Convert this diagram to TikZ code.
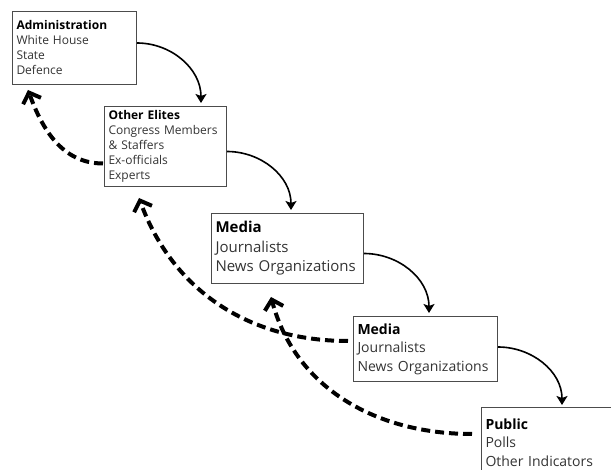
\documentclass[tikz,border=0pt]{standalone}
\usepackage{fontspec}
\setmainfont{Open Sans}
\usetikzlibrary{arrows.meta}

\begin{document}
\begin{tikzpicture}[x=1pt,y=-1pt]
	\tikzstyle{rect} = [rectangle, anchor=north west, align=left, draw=black!70, line width=1pt, inner sep=4pt, text=black!80]
	\tikzstyle{arrow} = [line width=1.6pt, -{Stealth[length=9pt,width=11pt,inset=2pt]}]
	\tikzstyle{back} = [line width=4pt, dash pattern=on 9pt off 5pt, -{Straight Barb[length=9pt,width=19pt]}]

	\clip (0,0) rectangle (611,470);

	\node (admin) at (12,11) [rect, text width=116pt, minimum height=73pt, font=\fontsize{12}{15}\selectfont] {\textcolor{black}{\textbf{Administration}}\\White House\\State\\Defence};
	\node (elites) at (104,106) [rect, text width=114pt, minimum height=80pt, font=\fontsize{12}{15}\selectfont] {\textcolor{black}{\textbf{Other Elites}}\\Congress Members\\\& Staffers\\Ex-officials\\Experts};
	\node (media1) at (211,213) [rect, text width=144pt, minimum height=70pt, font=\fontsize{15}{19.5}\selectfont] {\textcolor{black}{\textbf{Media}}\\Journalists\\News Organizations};
	\node (media2) at (353,316) [rect, text width=136pt, minimum height=65pt, font=\fontsize{14}{18.5}\selectfont] {\textcolor{black}{\textbf{Media}}\\Journalists\\News Organizations};
	\node (public) at (481,407) [rect, text width=142pt, minimum height=70pt, font=\fontsize{14}{18.5}\selectfont] {\textcolor{black}{\textbf{Public}}\\Polls\\Other Indicators};

	\draw [arrow] ([yshift=5pt]admin.east) to[out=0,in=90] ([xshift=-26pt,yshift=3pt]elites.north east);
	\draw [arrow] ([yshift=-5pt]elites.east) to[out=0,in=90] ([xshift=-73pt,yshift=3pt]media1.north east);
	\draw [arrow] ([yshift=-5pt]media1.east) to[out=0,in=90] ([xshift=76pt,yshift=3pt]media2.north west);
	\draw [arrow] ([yshift=2pt]media2.east) to[out=0,in=90] ([xshift=81pt,yshift=2pt]public.north west);

	\draw [back] ([xshift=-1pt,yshift=-17pt]elites.west) to[out=180,in=-70] ([xshift=16pt,yshift=-5pt]admin.south west);
	\draw [back] ([xshift=-5pt,yshift=8pt]media2.west) to[out=180,in=-70] ([xshift=35pt,yshift=-11pt]elites.south west);
	\draw [back] ([xshift=-9pt,yshift=-27pt]public.north west) to[out=180,in=-75] ([xshift=60pt,yshift=-13pt]media1.south west);

\end{tikzpicture}
\end{document}
